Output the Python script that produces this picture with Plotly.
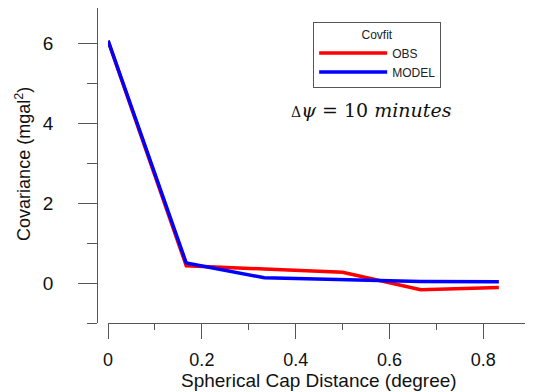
import plotly.graph_objects as go

# Data
distance_deg = [0.0, 0.1667, 0.3333, 0.5, 0.6667, 0.8333]
obs_cov = [6.05, 0.43, 0.35, 0.27, -0.17, -0.11]
model_cov = [6.06, 0.50, 0.13, 0.09, 0.04, 0.03]
x_ticks = [0, 0.2, 0.4, 0.6, 0.8]
x_minor = [0.1, 0.3, 0.5, 0.7, 0.9]
y_ticks = [0, 2, 4, 6]
y_minor = [-1, 1, 3, 5, 7]

W, H = 533, 392
OFF = 8  # default page body margin
FONT = "Liberation Sans, Arial, sans-serif"
AX = "#555555"


def px(x):
    return (x - OFF) / W


def py(y):
    return min(1.0, 1 - (y - OFF) / H)


# y scale: -1 at screen 323, 40 px per unit; top of plot is the top of the page
y_top = -1 + (323 - OFF) / 40.0

fig = go.Figure()
fig.add_trace(go.Scatter(x=distance_deg, y=obs_cov, mode="lines", name="OBS",
                         line=dict(color="#ff0000", width=3.5)))
fig.add_trace(go.Scatter(x=distance_deg, y=model_cov, mode="lines", name="MODEL",
                         line=dict(color="#0000ff", width=3.5)))

fig.update_layout(
    width=W, height=H,
    margin=dict(l=0, r=0, t=0, b=0),
    paper_bgcolor="white", plot_bgcolor="white",
    font=dict(family=FONT, color="#111111"),
    xaxis=dict(
        domain=[px(104), px(530)], range=[0, 0.9],
        showgrid=False, zeroline=False,
        showline=True, linecolor=AX, linewidth=1.2,
        tickmode="array", tickvals=x_ticks, ticktext=[f"{v:g}" for v in x_ticks],
        ticks="outside", ticklen=15, tickwidth=1.2, tickcolor=AX,
        ticklabelstandoff=5,
        minor=dict(tickmode="array", tickvals=x_minor, ticks="outside",
                   ticklen=6, tickwidth=1.2, tickcolor=AX, showgrid=False),
        tickfont=dict(size=18, family=FONT, color="#111111"),
    ),
    yaxis=dict(
        domain=[py(323), 1.0], range=[-1, y_top],
        anchor="free", position=px(93),
        showgrid=False, zeroline=False,
        showline=True, linecolor=AX, linewidth=1.2,
        tickmode="array", tickvals=y_ticks, ticktext=[str(v) for v in y_ticks],
        ticks="outside", ticklen=19, tickwidth=1.2, tickcolor=AX,
        ticklabelstandoff=21,
        minor=dict(tickmode="array", tickvals=y_minor, ticks="outside",
                   ticklen=10, tickwidth=1.2, tickcolor=AX, showgrid=False),
        tickfont=dict(size=19, family=FONT, color="#111111"),
    ),
    legend=dict(
        x=px(311), y=py(22), xanchor="left", yanchor="top",
        bgcolor="white", bordercolor=AX, borderwidth=1,
        font=dict(size=12, family=FONT, color="#222222"),
        title=dict(text="Covfit", side="top center",
                   font=dict(size=12, family=FONT, color="#222222")),
        itemwidth=68,
        tracegroupgap=0,
    ),
    annotations=[
        dict(text="Spherical Cap Distance (degree)", x=px(317), y=py(380),
             xref="paper", yref="paper", xanchor="center", yanchor="middle",
             showarrow=False,
             font=dict(size=19, family=FONT, color="#111111")),
        dict(text="Covariance (mgal<sup>2</sup>)", x=px(18), y=py(164),
             xref="paper", yref="paper", xanchor="center", yanchor="middle",
             showarrow=False, textangle=-90,
             font=dict(size=18, family=FONT, color="#111111")),
        dict(text="<span style='font-size:14px'>Δ</span><i>ψ</i> = 10 <i>minutes</i>",
             x=px(370), y=py(110), xref="paper", yref="paper",
             xanchor="center", yanchor="middle", showarrow=False,
             font=dict(size=19, family="DejaVu Serif, serif", color="#111111")),
    ],
)

fig.write_html("out.html")
